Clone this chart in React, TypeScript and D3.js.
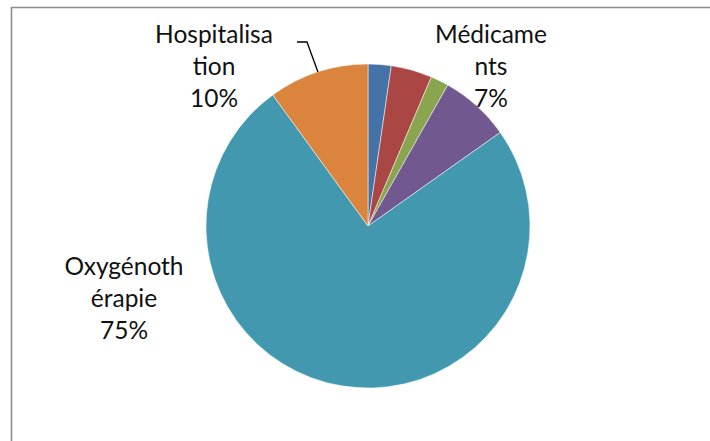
import React, { useRef, useEffect } from 'react';
import * as d3 from 'd3';

const categories = ['Consultations', 'Examens', 'Transport', 'Médicaments', 'Oxygénothérapie', 'Hospitalisation'];
const values = [2.3, 4.1, 1.8, 7, 74.8, 10];
const colors = ['#4572A7', '#AA4643', '#89A54E', '#71588F', '#4198AF', '#DB843D'];
// wrapped label lines as drawn in the chart (empty = no label)
const labelLines = [
  [],
  [],
  [],
  ['Médicame', 'nts', '7%'],
  ['Oxygénoth', 'érapie', '75%'],
  ['Hospitalisa', 'tion', '10%'],
];

export default function App() {
  const ref = useRef<SVGSVGElement | null>(null);

  useEffect(() => {
    if (!ref.current) return;
    const width = 710;
    const height = 441;
    const cx = 368;
    const cy = 226;
    const radius = 162;

    const svg = d3.select(ref.current);
    svg.selectAll('*').remove();

    svg.append('rect').attr('width', width).attr('height', height).attr('fill', '#fff');

    // chart area border (runs off page at right/bottom)
    svg.append('path')
      .attr('d', `M11.5,${height + 5} L11.5,7.5 L${width + 5},7.5`)
      .attr('fill', 'none')
      .attr('stroke', '#8c8c8c')
      .attr('stroke-width', 1.6);

    const pie = d3.pie<number>().sort(null).value(d => d);
    const arcs = pie(values);
    const arc = d3.arc<d3.PieArcDatum<number>>().innerRadius(0).outerRadius(radius);

    const g = svg.append('g').attr('transform', `translate(${cx},${cy})`);
    g.selectAll('path.slice')
      .data(arcs)
      .enter().append('path')
      .attr('class', 'slice')
      .attr('d', arc)
      .attr('fill', (d, i) => colors[i])
      .attr('stroke', '#fff')
      .attr('stroke-width', 0.5);

    // label anchor positions (center of text block, first baseline)
    const labelPos: Record<number, [number, number]> = {
      3: [491, 43],
      4: [124, 275],
      5: [214, 43],
    };

    arcs.forEach((d, i) => {
      const lines = labelLines[i];
      if (!lines.length) return;
      const [lx, ly] = labelPos[i];
      const t = svg.append('text')
        .attr('text-anchor', 'middle')
        .attr('font-family', 'Lato, "Open Sans", sans-serif')
        .attr('font-size', 24.5)
        .attr('fill', '#111');
      lines.forEach((s, k) => {
        t.append('tspan').attr('x', lx).attr('y', ly + k * 31.8).text(s);
      });
    });

    // leader line for Hospitalisation
    const hosp = arcs[5];
    const mid = (hosp.startAngle + hosp.endAngle) / 2;
    const ex = cx + Math.sin(mid) * radius;
    const ey = cy - Math.cos(mid) * radius;
    svg.append('path')
      .attr('d', `M297,42 L307,42 L${ex},${ey}`)
      .attr('fill', 'none')
      .attr('stroke', '#000')
      .attr('stroke-width', 1.3);
  }, []);

  return (
    <svg
      ref={ref}
      width={710}
      height={441}
      style={{ position: 'absolute', left: 0, top: 0, display: 'block' }}
    />
  );
}
